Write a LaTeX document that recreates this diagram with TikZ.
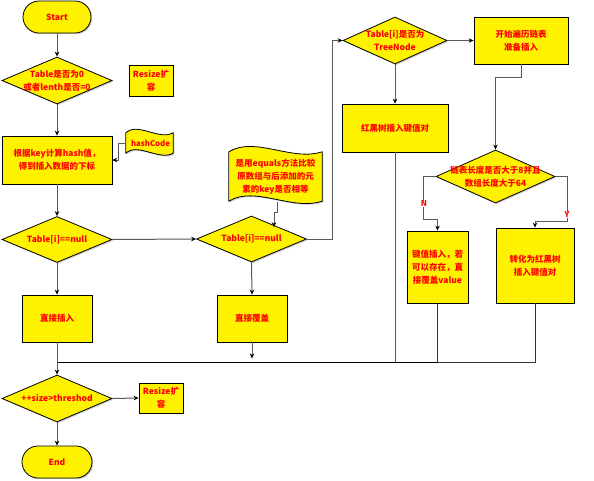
\documentclass[tikz,border=0pt]{standalone}
\usepackage{fontspec}
\setmainfont{Noto Sans CJK SC}
\usetikzlibrary{shapes.geometric,arrows.meta,calc,shadows}
\newcommand\dtxt{\fontsize{8.5}{13}\selectfont\bfseries}
\begin{document}
\begin{tikzpicture}[x=1pt,y=-1pt,
  base/.style={draw=black, fill=yellow, line width=0.8pt, font=\dtxt, text=red, align=center, inner sep=1pt,
    drop shadow={shadow xshift=1.2pt,shadow yshift=-1.2pt,fill=black!40}},
  box/.style={base, rectangle},
  term/.style={base, rectangle, rounded corners=16pt},
  dia/.style={base, diamond, inner sep=0pt},
  txt/.style={font=\dtxt, text=red, align=center, inner sep=0pt},
  tape/.style={draw=black, fill=yellow, line width=0.8pt,
    drop shadow={shadow xshift=1.2pt,shadow yshift=-1.2pt,fill=black!40}},
  conn/.style={draw=black!65, line width=1pt},
  arr/.style={conn, -{Stealth[length=5pt,width=4.5pt,color=black]}},
  yn/.style={font=\fontsize{8}{9}\selectfont\bfseries, text=red, fill=white, inner sep=0.5pt}
]
\useasboundingbox (0,0) rectangle (594,480);

% nodes
\node[term, minimum width=68pt, minimum height=32pt] (start) at (57,17) {Start};
\node[dia, minimum width=110pt, minimum height=47pt,
  label={[txt]center:Table是否为0\\或者lenth是否=0}] (d1) at (57,80.5) {};
\node[box, minimum width=44pt, minimum height=31pt] (r1) at (151,80.5) {Resize扩\\容};
\node[box, minimum width=110pt, minimum height=48pt] (b1) at (57,160) {根据key计算hash值，\\得到插入数据的下标};
\node[minimum width=47pt, minimum height=28pt, inner sep=0pt] (hc) at (149.5,143) {};
\path[tape] ($(hc.north west)+(0,4)$) .. controls +(12,-11) and +(-14,8) .. ($(hc.north east)+(0,4)$)
  -- ($(hc.south east)+(0,-4)$) .. controls +(-14,8) and +(12,-11) .. ($(hc.south west)+(0,-4)$) -- cycle;
\node[txt, font=\fontsize{7.8}{10}\selectfont\bfseries] (hct) at ($(hc)+(1,0)$) {hashCode};
\node[dia, minimum width=110pt, minimum height=46pt,
  label={[txt]center:Table[i]==null}] (d2) at (57,239.5) {};
\node[dia, minimum width=110pt, minimum height=46pt,
  label={[txt]center:Table[i]==null}] (d3) at (251.5,239) {};
\node[minimum width=93pt, minimum height=60pt, inner sep=0pt] (eq) at (275.5,177) {};
\path[tape] ($(eq.north west)+(0,5)$) .. controls +(26,-16) and +(-30,10) .. ($(eq.north east)+(0,5)$)
  -- ($(eq.south east)+(0,-6)$) .. controls +(-30,10) and +(26,-16) .. ($(eq.south west)+(0,-6)$) -- cycle;
\node[txt] (eqt) at ($(eq)+(0,0)$) {是用equals方法比较\\原数组与后添加的元\\素的key是否相等};
\node[dia, minimum width=104pt, minimum height=47pt,
  label={[txt]center:Table[i]是否为\\TreeNode}] (d4) at (395,40.5) {};
\node[box, minimum width=94pt, minimum height=47pt] (b2) at (521,40.5) {开始遍历链表\\准备插入};
\node[box, minimum width=106pt, minimum height=48pt] (b3) at (395,128) {红黑树插入键值对};
\node[dia, minimum width=119pt, minimum height=53pt,
  label={[txt]center:链表长度是否大于8并且\\数组长度大于64}] (d5) at (495.5,176.5) {};
\node[box, minimum width=61pt, minimum height=72pt] (b4) at (437.5,267) {键值插入，若\\可以存在，直\\接覆盖value};
\node[box, minimum width=78pt, minimum height=75pt] (b5) at (535,265.5) {转化为红黑树\\插入键值对};
\node[box, minimum width=70pt, minimum height=47pt] (b6) at (57,318.5) {直接插入};
\node[box, minimum width=70pt, minimum height=47pt] (b7) at (252,318.5) {直接覆盖};
\node[dia, minimum width=110pt, minimum height=47pt,
  label={[txt]center:++size>threshod}] (d6) at (57,398.5) {};
\node[box, minimum width=44pt, minimum height=30pt] (r2) at (161,398) {Resize扩\\容};
\node[term, minimum width=70pt, minimum height=32pt] (end) at (57,462) {End};
\coordinate (m) at (57,362.5);

% connectors
\draw[arr] (start.south) -- (d1.north);
\draw[arr] (d1.south) -- (b1.north);
\draw[arr] (hc.west) -- ++(-7,0) |- (b1.east);
\draw[arr] (b1.south) -- (d2.north);
\draw[arr] (d2.east) -- (d3.west);
\draw[arr] (d2.south) -- (b6.north);
\draw[arr] (d3.south) -- (b7.north);
\draw[arr] ($(eq.south)+(1.5,-5)$) -- ++(0,10) -- ++(-3,0) -- ++(0,15);
\draw[arr] (d3.east) -- ++(26,0) |- (d4.west);
\draw[arr] (d4.east) -- (b2.west);
\draw[arr] (d4.south) -- (b3.north);
\draw[arr] (b2.south) -- ++(0,13) -| (d5.north);
\draw[arr] (d5.west) -- ++(-12,0) -- ++(0,43) -| (b4.north);
\draw[arr] (d5.east) -- ++(12,0) -- ++(0,45) -| (b5.north);
\node[yn] (nlab) at (424,204) {N};
\node[yn] (ylab) at (567,215) {Y};
\draw[conn, draw=black!80] (b5.south) -- (b5.south |- m) -- (b4.south |- m);
\draw[conn, draw=black!80] (b4.south) -- (b4.south |- m);
\draw[conn] (b3.south) -- (b3.south |- m);
\draw[conn, draw=black, line width=1.2pt] (b4.south |- m) -- (m);
\draw[arr] (b7.south) -- ++(0,16);
\draw[arr] (b6.south) -- (d6.north);
\draw[arr] (d6.east) -- (r2.west);
\draw[arr] (d6.south) -- (end.north);
\end{tikzpicture}
\end{document}
